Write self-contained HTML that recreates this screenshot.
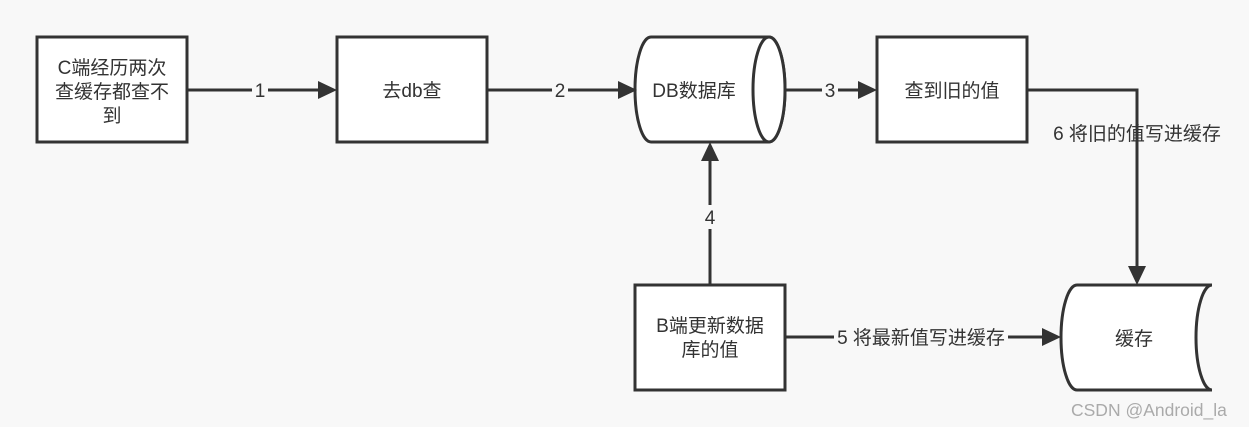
<!DOCTYPE html>
<html><head><meta charset="utf-8"><style>
html,body{margin:0;padding:0;background:#f8f8f8;}
svg{display:block;}
text{font-family:"Liberation Sans","Noto Sans CJK SC",sans-serif;font-size:19px;fill:#333;}
</style></head><body>
<svg width="1249" height="427" viewBox="0 0 1249 427" xmlns="http://www.w3.org/2000/svg">
<rect width="1249" height="427" fill="#f8f8f8"/>
<g stroke="#333" stroke-width="3" fill="#fff">
<rect x="37" y="37" width="150" height="105"/>
<rect x="337" y="37" width="150" height="105"/>
<rect x="877" y="37" width="150" height="105"/>
<rect x="635" y="285" width="150" height="105"/>
<path d="M651,37 L769,37 A16,52.5 0 0 1 769,142 L651,142 A16,52.5 0 0 1 651,37 Z"/>
<ellipse cx="769" cy="89.5" rx="16" ry="52.5"/>
<path d="M1077,285 L1212,285 A16,52.5 0 0 0 1212,390 L1077,390 A16,52.5 0 0 1 1077,285 Z"/>
</g>
<g stroke="#333" stroke-width="3" fill="none">
<line x1="187" y1="90" x2="322" y2="90"/>
<line x1="487" y1="90" x2="622" y2="90"/>
<line x1="785" y1="90" x2="862" y2="90"/>
<polyline points="1027,90 1137,90 1137,270"/>
<line x1="710" y1="285" x2="710" y2="157"/>
<line x1="785" y1="337" x2="1046" y2="337"/>
</g>
<g fill="#333">
<path d="M337,90 L318,81 L318,99 Z"/>
<path d="M637,90 L618,81 L618,99 Z"/>
<path d="M877,90 L858,81 L858,99 Z"/>
<path d="M1137,285 L1128,266 L1146,266 Z"/>
<path d="M710,142 L701,161 L719,161 Z"/>
<path d="M1061,337 L1042,328 L1042,346 Z"/>
</g>
<g fill="#f8f8f8">
<rect x="252" y="80" width="16" height="22"/>
<rect x="552" y="80" width="16" height="22"/>
<rect x="822" y="80" width="16" height="22"/>
<rect x="700" y="205" width="20" height="24"/>
<rect x="834" y="326" width="174" height="22"/>
</g>
<g text-anchor="middle">
<text x="112" y="74">C端经历两次</text>
<text x="112" y="98">查缓存都查不</text>
<text x="112" y="122">到</text>
<text x="412" y="97">去db查</text>
<text x="260" y="97">1</text>
<text x="560" y="97">2</text>
<text x="830" y="97">3</text>
<text x="694" y="97">DB数据库</text>
<text x="952" y="97">查到旧的值</text>
<text x="1137" y="140">6 将旧的值写进缓存</text>
<text x="710" y="332">B端更新数据</text>
<text x="710" y="356">库的值</text>
<text x="710" y="224">4</text>
<text x="921" y="344">5 将最新值写进缓存</text>
<text x="1134" y="345">缓存</text>
</g>
<text x="1071" y="416" style="font-size:17.5px;fill:#aaa">CSDN @Android_la</text>
</svg>
</body></html>
